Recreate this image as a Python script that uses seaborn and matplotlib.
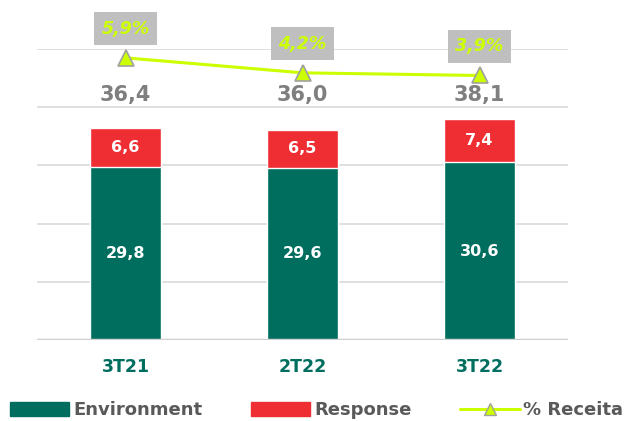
import matplotlib
matplotlib.use("Agg")
import matplotlib.pyplot as plt
import seaborn as sns
from matplotlib.patches import Patch
from matplotlib.lines import Line2D

# dados
periodos = ["3T21", "2T22", "3T22"]
environment = [29.8, 29.6, 30.6]
response = [6.6, 6.5, 7.4]
totais = ["36,4", "36,0", "38,1"]
receita_pct = [5.9, 4.2, 3.9]
receita_lbl = ["5,9%", "4,2%", "3,9%"]

VERDE = "#006e5f"
VERMELHO = "#ef2e33"
LIMA = "#ccff00"
CINZA = "#7f7f7f"

sns.set_style("white")
plt.rcParams["font.family"] = ["DejaVu Sans"]

fig = plt.figure(figsize=(6.27, 4.21), dpi=100)
ax = fig.add_axes([0.059, 0.192, 0.847, 0.692])

soma = [e + r for e, r in zip(environment, response)]
sns.barplot(x=periodos, y=soma, color=VERMELHO, width=0.4, saturation=1, ax=ax, zorder=3)
sns.barplot(x=periodos, y=environment, color=VERDE, width=0.4, saturation=1, ax=ax, zorder=4)

ax.set_ylim(0, 50)
ax.set_xlim(-0.5, 2.5)
ax.set_yticks(range(0, 51, 10))
ax.set_yticklabels([])
ax.yaxis.grid(True, color="#d9d9d9", lw=1.2, zorder=0)
ax.axhline(0, color="#d0d0d0", lw=2.5, zorder=5)
sns.despine(ax=ax, left=True, bottom=True)
ax.tick_params(axis="both", length=0)
ax.tick_params(axis="x", pad=13)
for t in ax.get_xticklabels():
    t.set_color(VERDE)
    t.set_fontweight("bold")
    t.set_fontsize(12.5)

for i in range(len(periodos)):
    ax.text(i, environment[i] / 2, f"{environment[i]:.1f}".replace(".", ","),
            ha="center", va="center", color="white", fontsize=11.5, fontweight="bold", zorder=6)
    ax.text(i, environment[i] + response[i] / 2, f"{response[i]:.1f}".replace(".", ","),
            ha="center", va="center", color="white", fontsize=11.5, fontweight="bold", zorder=6)
    ax.text(i, 42, totais[i], ha="center", va="center", color=CINZA,
            fontsize=15, fontweight="bold", zorder=6)

ax2 = ax.twinx()
sns.lineplot(x=[0, 1, 2], y=receita_pct, ax=ax2, color=LIMA, lw=2.2, marker="^",
             markersize=11, markerfacecolor=LIMA, markeredgecolor="#a0a0a0",
             markeredgewidth=1.2, zorder=7)
ax2.set_ylim(-26.1, 6.92)
ax2.set_xlim(-0.5, 2.5)
ax2.set_yticks([])
sns.despine(ax=ax2, left=True, bottom=True, right=True)
for i in range(len(periodos)):
    ax2.annotate(receita_lbl[i], (i, receita_pct[i]), xytext=(0, 21), textcoords="offset points",
                 ha="center", va="center", color=LIMA, fontsize=12.5, fontweight="bold",
                 fontstyle="italic",
                 bbox=dict(boxstyle="square,pad=0.45", fc="#bfbfbf", ec="none"))

handles = [
    Patch(color=VERDE, label="Environment"),
    Patch(color=VERMELHO, label="Response"),
    Line2D([0], [0], color=LIMA, lw=2.2, marker="^", markersize=9,
           markerfacecolor=LIMA, markeredgecolor="#a0a0a0", label="% Receita"),
]
leg = fig.legend(handles=handles, loc="lower center", bbox_to_anchor=(0.505, -0.035), ncol=3,
                 frameon=False, handlelength=3.3, handleheight=0.8, handletextpad=0.2,
                 columnspacing=2.7, prop={"size": 13, "weight": "bold"})
for t in leg.get_texts():
    t.set_color("#595959")

fig.savefig("out.png", dpi=100)
